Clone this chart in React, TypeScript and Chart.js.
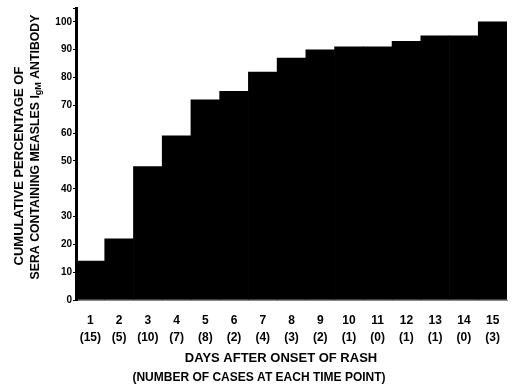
import React, { useEffect, useRef } from "react";
import { Chart, registerables } from "chart.js";

Chart.register(...registerables);

const days = ["1", "2", "3", "4", "5", "6", "7", "8", "9", "10", "11", "12", "13", "14", "15"];
const caseCounts = ["(15)", "(5)", "(10)", "(7)", "(8)", "(2)", "(4)", "(3)", "(2)", "(1)", "(0)", "(1)", "(1)", "(0)", "(3)"];
const cumulativePercent = [14, 22, 48, 59, 72, 75, 82, 87, 90, 91, 91, 93, 95, 95, 100];
const yTitleLine1 = "CUMULATIVE PERCENTAGE OF";
const yTitleLine2 = ["SERA CONTAINING MEASLES I", "gM", " ANTIBODY"];
const xTitleLines = ["DAYS AFTER ONSET OF RASH", "(NUMBER OF CASES AT EACH TIME POINT)"];

const FONT = '"Liberation Sans", Arial, Helvetica, sans-serif';

const titlesPlugin = {
  id: "customTitles",
  afterDraw(chart: any) {
    const ctx = chart.ctx as CanvasRenderingContext2D;
    ctx.save();
    ctx.fillStyle = "#000";
    ctx.textBaseline = "middle";
    ctx.textAlign = "center";
    ctx.font = `bold 13px ${FONT}`;
    ctx.fillText(xTitleLines[0], 281, 358);
    ctx.font = `bold 12px ${FONT}`;
    ctx.fillText(xTitleLines[1], 259, 378);

    ctx.save();
    ctx.translate(19, 166);
    ctx.rotate(-Math.PI / 2);
    ctx.font = `bold 13px ${FONT}`;
    ctx.fillText(yTitleLine1, 0, 0);
    ctx.restore();

    ctx.save();
    ctx.translate(36, 147);
    ctx.rotate(-Math.PI / 2);
    ctx.textAlign = "left";
    const big = `bold 12.3px ${FONT}`;
    const small = `bold 9px ${FONT}`;
    ctx.font = big;
    const w0 = ctx.measureText(yTitleLine2[0]).width;
    const w2 = ctx.measureText(yTitleLine2[2]).width;
    ctx.font = small;
    const w1 = ctx.measureText(yTitleLine2[1]).width;
    let x = -(w0 + w1 + w2) / 2;
    ctx.font = big;
    ctx.fillText(yTitleLine2[0], x, 0);
    x += w0;
    ctx.font = small;
    ctx.fillText(yTitleLine2[1], x, 3);
    x += w1;
    ctx.font = big;
    ctx.fillText(yTitleLine2[2], x, 0);
    ctx.restore();

    ctx.restore();
  },
};

export default function App() {
  const ref = useRef<HTMLCanvasElement | null>(null);
  useEffect(() => {
    document.body.style.margin = "0";
    const labels = days.map((d, i) => [d, caseCounts[i]]);
    const chart = new Chart(ref.current as HTMLCanvasElement, {
      type: "bar",
      data: {
        labels,
        datasets: [
          {
            data: cumulativePercent,
            backgroundColor: "#000",
            borderWidth: 0,
            categoryPercentage: 1,
            barPercentage: 1,
          },
        ],
      },
      plugins: [titlesPlugin],
      options: {
        animation: false,
        responsive: false,
        maintainAspectRatio: false,
        layout: { padding: { top: 8, right: 6, left: 0, bottom: 0 } },
        plugins: { legend: { display: false }, tooltip: { enabled: false } },
        scales: {
          x: {
            grid: { display: false },
            border: { display: true, color: "#888", width: 1 },
            ticks: {
              color: "#000",
              font: { family: FONT, size: 12, weight: "bold", lineHeight: 1.42 },
              maxRotation: 0,
              autoSkip: false,
              padding: 4,
            },
            afterFit(s: any) {
              s.height = 88;
            },
          },
          y: {
            min: 0,
            max: 105,
            grid: { display: true, drawOnChartArea: false, tickLength: 3, color: "#000" },
            border: { display: true, color: "#000", width: 3 },
            ticks: {
              stepSize: 10,
              color: "#000",
              padding: 1,
              font: { family: FONT, size: 10, weight: "bold" },
              callback: (v: any) => (Number(v) <= 100 ? String(v) : ""),
            },
            afterFit(s: any) {
              s.width = 76;
            },
          },
        },
      },
    });
    return () => chart.destroy();
  }, []);
  return <canvas ref={ref} width={513} height={388} style={{ display: "block" }} />;
}
